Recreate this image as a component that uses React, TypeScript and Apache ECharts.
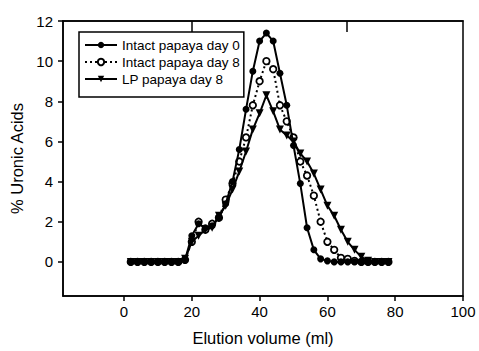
import React, { useEffect, useRef } from "react";
import * as echarts from "echarts";

const elution = [2, 4, 6, 8, 10, 12, 14, 16, 18, 20, 22, 24, 26, 28, 30, 32, 34, 36, 38, 40, 42, 44, 46, 48, 50, 52, 54, 56, 58, 60, 62, 64, 66, 68, 70, 72, 74, 76, 78];
const intactDay0 = [0, 0, 0, 0, 0, 0, 0, 0, 0.1, 1.3, 1.9, 1.7, 1.8, 2.2, 2.9, 4.0, 5.6, 7.6, 9.5, 11.0, 11.4, 11.0, 9.4, 7.8, 5.8, 3.9, 1.7, 0.6, 0.15, 0.05, 0, 0, 0, 0, 0, 0, 0, 0, 0];
const intactDay8 = [0, 0, 0, 0, 0, 0, 0, 0, 0.1, 1.0, 2.0, 1.6, 1.9, 2.2, 3.1, 3.9, 5.0, 6.2, 7.8, 9.0, 10.0, 9.6, 7.8, 7.0, 6.2, 5.0, 4.3, 3.3, 2.0, 1.0, 0.6, 0.2, 0.15, 0.05, 0, 0, 0, 0, 0];
const lpDay8 = [0, 0, 0, 0, 0, 0, 0, 0, 0.15, 1.0, 1.3, 1.6, 1.7, 2.3, 2.8, 3.6, 4.5, 5.5, 6.6, 7.4, 8.3, 7.5, 6.6, 6.3, 6.0, 5.4, 5.0, 4.4, 3.6, 2.8, 2.3, 1.6, 1.0, 0.6, 0.25, 0.05, 0, 0, 0];
const xTicks = [0, 20, 40, 60, 80, 100];
const yTicks = [0, 2, 4, 6, 8, 10, 12];
const topTicks = [20, 65.7];

const FONT = "Liberation Sans, Arial, sans-serif";

export default function App() {
  const ref = useRef<HTMLDivElement>(null);
  useEffect(() => {
    document.body.style.margin = "0";
    if (!ref.current) return;
    const chart = echarts.init(ref.current, undefined, { renderer: "svg" });
    const pairs = (ys: number[]) => elution.map((x, i) => [x, ys[i]]);
    chart.setOption({
      animation: false,
      backgroundColor: "#ffffff",
      textStyle: { fontFamily: FONT },
      grid: { left: 63, right: 16, top: 21, bottom: 54, show: true, borderColor: "#000", borderWidth: 1.5, backgroundColor: "transparent" },
      legend: {
        orient: "vertical",
        left: 79,
        top: 32,
        backgroundColor: "#fff",
        borderColor: "#000",
        borderWidth: 1.5,
        borderRadius: 0,
        padding: [6, 4, 11, 5],
        itemWidth: 32,
        itemHeight: 8,
        itemGap: 3,
        textStyle: { fontFamily: FONT, fontSize: 13.5, color: "#000" },
        data: ["Intact papaya day 0", "Intact papaya day 8", "LP papaya day 8"],
      },
      xAxis: [
        {
          type: "value",
          min: -18,
          max: 100,
          name: "Elution volume (ml)",
          nameLocation: "middle",
          nameGap: 33,
          nameTextStyle: { fontFamily: FONT, fontSize: 16.5, color: "#000" },
          axisLine: { show: true, onZero: false, lineStyle: { color: "#000", width: 1.5 } },
          axisTick: { show: true, inside: false, length: 5, customValues: xTicks, lineStyle: { color: "#000", width: 1.5 } },
          axisLabel: { customValues: xTicks, fontFamily: FONT, fontSize: 15, color: "#000", margin: 8 },
          splitLine: { show: false },
        },
        {
          type: "value",
          position: "top",
          min: -18,
          max: 100,
          axisLine: { show: true, onZero: false, lineStyle: { color: "#000", width: 1.5 } },
          axisTick: { show: true, inside: true, length: 11, customValues: topTicks, lineStyle: { color: "#000", width: 1.5 } },
          axisLabel: { show: true, customValues: topTicks, formatter: () => "" },
          splitLine: { show: false },
        },
      ],
      yAxis: {
        type: "value",
        min: -1.7,
        max: 12,
        name: "% Uronic Acids",
        nameLocation: "middle",
        nameGap: 37,
        nameTextStyle: { fontFamily: FONT, fontSize: 16.5, color: "#000" },
        axisLine: { show: true, onZero: false, lineStyle: { color: "#000", width: 1.5 } },
        axisTick: { show: true, inside: false, length: 5, customValues: yTicks, lineStyle: { color: "#000", width: 1.5 } },
        axisLabel: { customValues: yTicks, fontFamily: FONT, fontSize: 15, color: "#000", margin: 10 },
        splitLine: { show: false },
      },
      series: [
        {
          name: "Intact papaya day 0",
          type: "line",
          data: pairs(intactDay0),
          symbol: "circle",
          symbolSize: 7,
          itemStyle: { color: "#000" },
          lineStyle: { color: "#000", width: 2, type: "solid" },
          z: 3,
        },
        {
          name: "Intact papaya day 8",
          type: "line",
          data: pairs(intactDay8),
          symbol: "circle",
          symbolSize: 6.5,
          itemStyle: { color: "#fff", borderColor: "#000", borderWidth: 1.8 },
          lineStyle: { color: "#000", width: 2, type: [2, 3] },
          z: 2,
        },
        {
          name: "LP papaya day 8",
          type: "line",
          data: pairs(lpDay8),
          symbol: "triangle",
          symbolRotate: 180,
          symbolSize: 8,
          itemStyle: { color: "#000" },
          lineStyle: { color: "#000", width: 2, type: "solid" },
          z: 4,
        },
      ],
    });
    return () => chart.dispose();
  }, []);
  return <div ref={ref} style={{ width: 479, height: 351 }} />;
}
